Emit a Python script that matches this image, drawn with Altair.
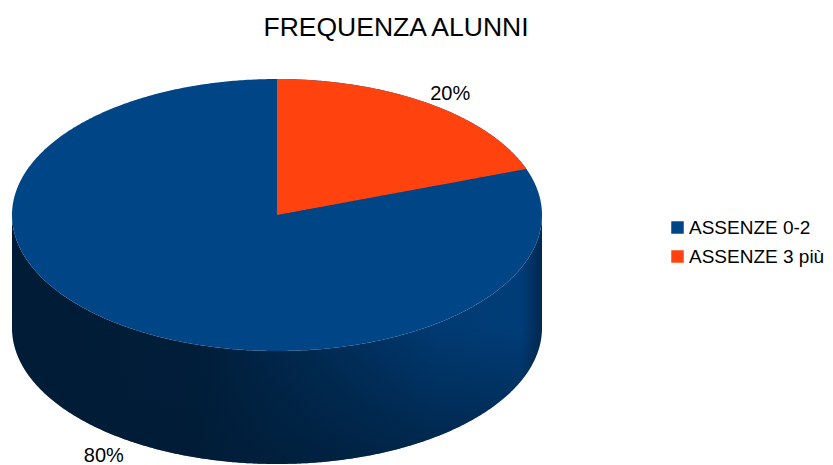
import numpy as np
import pandas as pd
import altair as alt

TITLE = "FREQUENZA ALUNNI"
CATEGORIES = ["ASSENZE 0-2", "ASSENZE 3 più"]
SHARES = [80.5, 19.5]
LABELS = ["80%", "20%"]
COLORS = ["#004586", "#ff420e"]
DEPTH = 113 / 136  # side height, in units of the ellipse's vertical radius

W, H, TOP = 817, 413, 44
CX, CY, RX, RY = 277 - 8, 215 - 8 - TOP, 265, 136
x_dom = [-CX / RX, (W - CX) / RX]
y_dom = [-(H - CY) / RY, CY / RY]

theta = np.radians(SHARES[1] / 100 * 360)

t = np.linspace(-np.pi / 2, np.pi / 2, 361)
rim_x = np.sin(t)
rim_y = np.cos(t)

side = pd.DataFrame({"x": rim_x, "y": -rim_y, "y2": -rim_y - DEPTH})
blue = pd.DataFrame({"x": rim_x, "y": rim_y, "y2": -rim_y, "cat": CATEGORIES[0]})

t2 = np.linspace(0, theta, 181)
orange = pd.DataFrame({
    "x": np.sin(t2),
    "y": np.cos(t2),
    "y2": np.sin(t2) * np.cos(theta) / np.sin(theta),
    "cat": CATEGORIES[1],
})

mid_small = theta / 2
mid_big = theta + (2 * np.pi - theta) / 2
R_LABEL = 1.13
label_big = pd.DataFrame({
    "x": [R_LABEL * np.sin(mid_big)],
    "y": [R_LABEL * np.cos(mid_big) - DEPTH],
    "text": [LABELS[0]],
})
label_small = pd.DataFrame({
    "x": [R_LABEL * np.sin(mid_small)],
    "y": [R_LABEL * np.cos(mid_small)],
    "text": [LABELS[1]],
})

X = alt.X("x:Q", scale=alt.Scale(domain=x_dom, nice=False, zero=False), axis=None)
Y = alt.Y("y:Q", scale=alt.Scale(domain=y_dom, nice=False, zero=False), axis=None, stack=False)
color = alt.Color(
    "cat:N",
    scale=alt.Scale(domain=CATEGORIES, range=COLORS),
    legend=alt.Legend(
        title=None,
        orient="none",
        legendX=668 - 8,
        legendY=218 - 8 - TOP,
        symbolType="square",
        symbolSize=156,
        symbolStrokeWidth=0,
        labelFont="Liberation Sans",
        labelFontSize=19,
        labelColor="#000000",
        labelOffset=2,
        rowPadding=9,
        labelLimit=200,
    ),
)

grad_h = alt.LinearGradient(
    gradient="linear",
    x1=0, y1=0, x2=1, y2=0,
    stops=[
        alt.GradientStop(color="#001c36", offset=0.0),
        alt.GradientStop(color="#001e3a", offset=0.35),
        alt.GradientStop(color="#002a52", offset=0.55),
        alt.GradientStop(color="#003a72", offset=0.8),
        alt.GradientStop(color="#003d78", offset=0.96),
        alt.GradientStop(color="#002850", offset=1.0),
    ],
)
grad_v = alt.LinearGradient(
    gradient="linear",
    x1=0, y1=0, x2=0, y2=1,
    stops=[
        alt.GradientStop(color="rgba(0,28,54,0)", offset=0.0),
        alt.GradientStop(color="rgba(0,28,54,0)", offset=0.45),
        alt.GradientStop(color="rgba(0,28,54,0.7)", offset=1.0),
    ],
)

side_h = alt.Chart(side).mark_area(color=grad_h).encode(x=X, y=Y, y2="y2:Q")
side_v = alt.Chart(side).mark_area(color=grad_v).encode(x=X, y=Y, y2="y2:Q")
blue_layer = alt.Chart(blue).mark_area().encode(x=X, y=Y, y2="y2:Q", color=color)
orange_layer = alt.Chart(orange).mark_area().encode(x=X, y=Y, y2="y2:Q", color=color)
text_big = alt.Chart(label_big).mark_text(
    font="Liberation Sans", fontSize=20, color="#000000", dx=-1, dy=2
).encode(x=X, y=Y, text="text:N")
text_small = alt.Chart(label_small).mark_text(
    font="Liberation Sans", fontSize=20, color="#000000", dx=1, dy=5
).encode(x=X, y=Y, text="text:N")

chart = (
    alt.layer(side_h, side_v, blue_layer, orange_layer, text_big, text_small)
    .properties(
        width=W,
        height=H,
        padding={"left": 0, "right": 0, "top": TOP, "bottom": 0},
        autosize=alt.AutoSizeParams(type="none"),
        title=alt.TitleParams(
            TITLE,
            font="Liberation Sans",
            fontSize=26.5,
            fontWeight="normal",
            color="#000000",
            anchor="middle",
            dx=-20.5,
            offset=11,
        ),
    )
    .configure_view(stroke=None)
)

chart.save("out.html", embed_options={"renderer": "svg", "actions": False})
